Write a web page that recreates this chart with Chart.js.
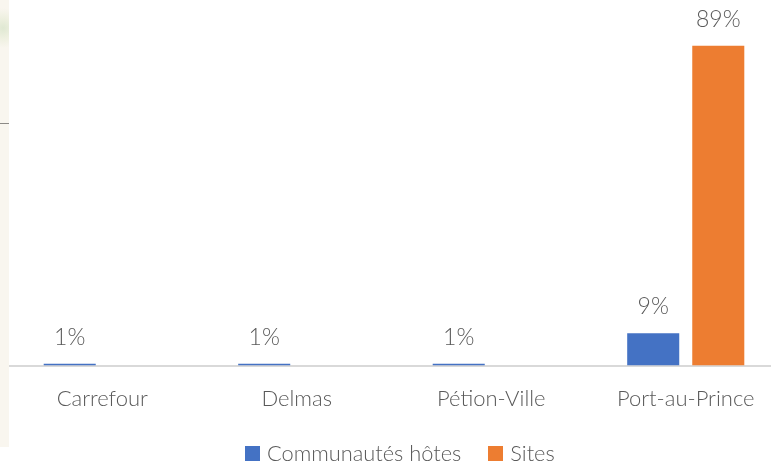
<!DOCTYPE html>
<html lang="fr">
<head>
  <meta charset="UTF-8">
  <title>Communautés hôtes et sites</title>
  <script src="https://cdn.jsdelivr.net/npm/chart.js"></script>
  <style>
    html, body {
      margin: 0;
      padding: 0;
      width: 771px;
      height: 463px;
      overflow: hidden;
      background: #fff;
    }

    #chart {
      position: absolute;
      left: 0;
      top: 0;
    }

    /* edge of the map behind the chart */
    .map-edge {
      position: absolute;
      left: 0;
      top: 0;
      width: 9px;
      height: 447px;
      background:
        radial-gradient(circle at 3px 28px, #dfe8d2 0, #eef0e0 10px, transparent 20px),
        #f9f6ef;
    }

    .map-road {
      position: absolute;
      left: 0;
      top: 123px;
      width: 9px;
      height: 1px;
      background: #8c8a86;
    }

    #legend {
      position: absolute;
      left: 245px;
      top: 439px;
      display: flex;
      align-items: center;
      font: 300 21.8px Lato, sans-serif;
      line-height: 28px;
      color: #595959;
      white-space: nowrap;
    }

    #legend span.box {
      width: 15px;
      height: 15px;
      margin-right: 7px;
    }

    #legend span.name {
      margin-right: 27px;
    }
  </style>
</head>
<body>
  <canvas id="chart" width="790" height="463"></canvas>
  <div class="map-edge"><div class="map-road"></div></div>
  <div id="legend"></div>

  <script>
    const categories = ['Carrefour', 'Delmas', 'Pétion-Ville', 'Port-au-Prince'];
    const hostCommunities = [0.5, 0.5, 0.5, 9];
    const sites = [null, null, null, 89];

    const textColor = '#595959';
    const fontFamily = 'Lato, sans-serif';

    // value labels above the bars
    const barLabels = {
      id: 'barLabels',
      afterDatasetsDraw(chart) {
        const ctx = chart.ctx;
        ctx.save();
        ctx.fillStyle = textColor;
        ctx.font = '300 23px ' + fontFamily;
        ctx.textAlign = 'center';
        ctx.textBaseline = 'bottom';
        chart.data.datasets.forEach((dataset, i) => {
          chart.getDatasetMeta(i).data.forEach((bar, j) => {
            const value = dataset.data[j];
            if (value === null) return;
            ctx.fillText(Math.round(value + 0.01) + '%', bar.x, bar.y - 15);
          });
        });
        ctx.restore();
      }
    };

    const chart = new Chart(document.getElementById('chart'), {
      type: 'bar',
      data: {
        labels: categories,
        datasets: [
          { label: 'Communautés hôtes', data: hostCommunities, backgroundColor: '#4472c4' },
          { label: 'Sites', data: sites, backgroundColor: '#ed7d31' }
        ]
      },
      options: {
        responsive: false,
        animation: false,
        categoryPercentage: 0.669,
        barPercentage: 0.8,
        layout: { padding: { left: 5, right: 7, top: 0, bottom: 39 } },
        scales: {
          x: {
            grid: { display: false },
            border: { color: '#d9d9d9', width: 2 },
            ticks: {
              color: textColor,
              font: { family: fontFamily, size: 22, weight: '300' },
              padding: 12,
              maxRotation: 0
            }
          },
          y: {
            display: false,
            min: 0,
            max: 101.7
          }
        },
        plugins: {
          legend: { display: false },
          tooltip: { enabled: false }
        }
      },
      plugins: [barLabels]
    });

    // legend as plain text next to colour boxes, built from the datasets
    const legend = document.getElementById('legend');
    chart.data.datasets.forEach(dataset => {
      const box = document.createElement('span');
      box.className = 'box';
      box.style.background = dataset.backgroundColor;
      const name = document.createElement('span');
      name.className = 'name';
      name.textContent = dataset.label;
      legend.append(box, name);
    });
  </script>
</body>
</html>
